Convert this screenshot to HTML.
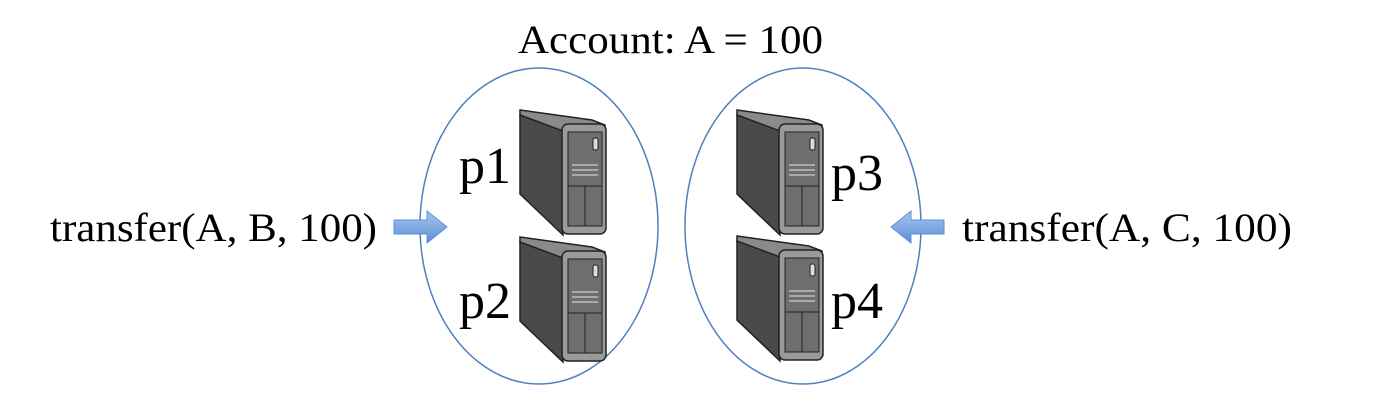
<!DOCTYPE html>
<html><head><style>
body{margin:0;background:#fff;}
svg{display:block;}
text{font-family:"Liberation Serif",serif;fill:#000;}
</style></head><body>
<svg width="1395" height="416" viewBox="0 0 1395 416">
<defs>
<linearGradient id="ar" x1="0" y1="0" x2="0" y2="1"><stop offset="0" stop-color="#a9c6ee"/><stop offset="1" stop-color="#5b8fd6"/></linearGradient>
<g id="srv">
  <polygon points="0,0 72,10 85,15 85,22 43,22 0,6" fill="#8a8a8a" stroke="#222" stroke-width="1.5"/>
  <polygon points="0,5 43,21 43,125 0,84" fill="#4a4a4a" stroke="#222" stroke-width="1.5"/>
  <rect x="42" y="14" width="44" height="110" rx="6" fill="#9a9a9a" stroke="#222" stroke-width="1.5"/>
  <rect x="48" y="22" width="34" height="94" fill="#6e6e6e" stroke="#222" stroke-width="1"/>
  <rect x="73" y="28" width="5" height="12" rx="2" fill="#ddd" stroke="#222" stroke-width="1"/>
  <line x1="52" y1="55" x2="78" y2="55" stroke="#aaa" stroke-width="2"/>
  <line x1="52" y1="60" x2="78" y2="60" stroke="#aaa" stroke-width="2"/>
  <line x1="52" y1="65" x2="78" y2="65" stroke="#aaa" stroke-width="2"/>
  <line x1="48" y1="76" x2="82" y2="76" stroke="#222" stroke-width="1"/>
  <line x1="65" y1="76" x2="65" y2="116" stroke="#222" stroke-width="1"/>
</g>
</defs>
<ellipse cx="539" cy="226" rx="119" ry="158" fill="none" stroke="#4f7fbd" stroke-width="1.5"/>
<ellipse cx="803" cy="226" rx="118" ry="158" fill="none" stroke="#4f7fbd" stroke-width="1.5"/>
<use href="#srv" x="520" y="110"/>
<use href="#srv" x="520" y="237"/>
<use href="#srv" x="737" y="110"/>
<use href="#srv" x="737" y="236"/>
<text x="518" y="53" font-size="40" textLength="305" lengthAdjust="spacingAndGlyphs">Account: A = 100</text>
<text x="50" y="241" font-size="40" textLength="327" lengthAdjust="spacingAndGlyphs">transfer(A, B, 100)</text>
<text x="962" y="241" font-size="40" textLength="330" lengthAdjust="spacingAndGlyphs">transfer(A, C, 100)</text>
<text x="459" y="183" font-size="52">p1</text>
<text x="459" y="318" font-size="52">p2</text>
<text x="831" y="190" font-size="52">p3</text>
<text x="831" y="318" font-size="52">p4</text>
<polygon points="394,220 427,220 427,211 447,227 427,243 427,234 394,234" fill="url(#ar)" stroke="#5b8fd6" stroke-width="1"/>
<polygon points="944,220 911,220 911,211 891,227 911,243 911,234 944,234" fill="url(#ar)" stroke="#5b8fd6" stroke-width="1"/>
</svg>
</body></html>
